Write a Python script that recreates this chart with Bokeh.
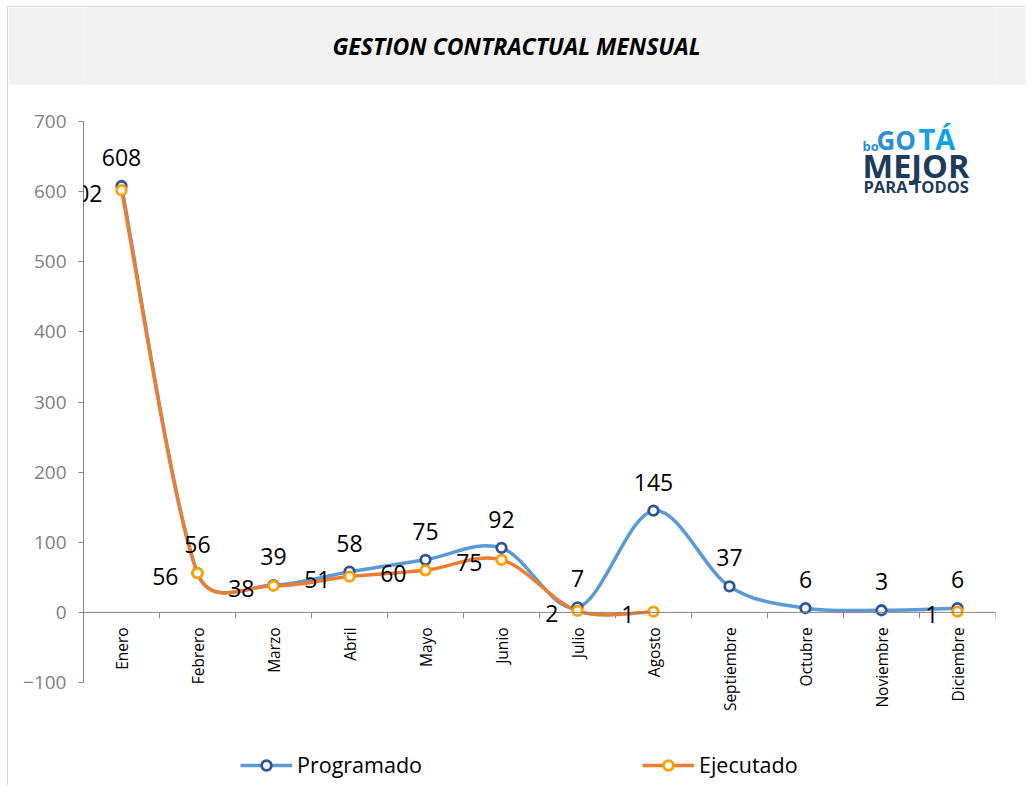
import math
from bokeh.plotting import figure
from bokeh.models import (ColumnDataSource, LabelSet, Label, Span, FixedTicker,
                          Legend, LegendItem, Range1d)
from bokeh.layouts import column
from bokeh.embed import file_html
from bokeh.resources import INLINE
from bokeh.core.properties import value

# ---------------- data ----------------
months = ["Enero", "Febrero", "Marzo", "Abril", "Mayo", "Junio", "Julio",
          "Agosto", "Septiembre", "Octubre", "Noviembre", "Diciembre"]
programado = [608, 56, 39, 58, 75, 92, 7, 145, 37, 6, 3, 6]
ejecutado = [602, 56, 38, 51, 60, 75, 2, 1, None, None, None, 1]
y_ticks = [-100, 0, 100, 200, 300, 400, 500, 600, 700]
series_names = ["Programado", "Ejecutado"]
title_text = "GESTION CONTRACTUAL MENSUAL"

# ---------------- styling / layout ----------------
FONT = "Open Sans"
W = 1018
TITLE_H = 78
MAIN_H = 700
TOP = 36
LEFT = 75
PX_PER_CAT = 76
Y_MAX = 700
PX_PER_UNIT = 0.70125
frame_w = PX_PER_CAT * len(months)
frame_h = MAIN_H - TOP
y_min = Y_MAX - frame_h / PX_PER_UNIT
RIGHT = W - LEFT - frame_w

BLUE_LINE = "#5b9bd5"
BLUE_MARK = "#2f5597"
ORANGE_LINE = "#ed7d31"
ORANGE_MARK = "#ffa000"
AXIS_GREY = "#868686"

PAGE_X0 = 8
PAGE_Y0 = 8
MARGIN_LEFT = 7
MARGIN_TOP = 6
FRAME_LEFT_PAGE = PAGE_X0 + LEFT
FRAME_TOP_PAGE = PAGE_Y0 + TITLE_H + TOP


def px2x(px):
    return (px - FRAME_LEFT_PAGE) / PX_PER_CAT - 0.5


def py2y(py):
    return Y_MAX - (py - FRAME_TOP_PAGE) / PX_PER_UNIT


def smooth_segments(vals):
    """Excel-like smoothed line as cubic bezier segments (control points
    computed from the data points, capped in screen space)."""
    segs = dict(x0=[], y0=[], x1=[], y1=[], cx0=[], cy0=[], cx1=[], cy1=[])
    runs, cur = [], []
    for i, v in enumerate(vals):
        if v is None:
            if cur:
                runs.append(cur)
            cur = []
        else:
            cur.append((float(i), float(v)))
    if cur:
        runs.append(cur)

    def dist(a, b):
        return math.hypot((a[0] - b[0]) * PX_PER_CAT, (a[1] - b[1]) * PX_PER_UNIT)

    for pts in runs:
        n = len(pts)
        for i in range(n - 1):
            p1, p2 = pts[i], pts[i + 1]
            p0 = pts[i - 1] if i > 0 else p1
            p3 = pts[i + 2] if i + 2 < n else p2
            d12 = dist(p1, p2)
            d02 = dist(p0, p2)
            d13 = dist(p1, p3)
            f1 = 1 / 6
            f2 = 1 / 6
            if d02 > 0 and d02 * f1 > d12 / 2:
                f1 = d12 / (2 * d02)
            if d13 > 0 and d13 * f2 > d12 / 2:
                f2 = d12 / (2 * d13)
            c1 = (p1[0] + f1 * (p2[0] - p0[0]), p1[1] + f1 * (p2[1] - p0[1]))
            c2 = (p2[0] - f2 * (p3[0] - p1[0]), p2[1] - f2 * (p3[1] - p1[1]))
            segs["x0"].append(p1[0]); segs["y0"].append(p1[1])
            segs["x1"].append(p2[0]); segs["y1"].append(p2[1])
            segs["cx0"].append(c1[0]); segs["cy0"].append(c1[1])
            segs["cx1"].append(c2[0]); segs["cy1"].append(c2[1])
    return segs


# ---------------- title band ----------------
# the column aligns this figure's frame with the main chart's frame,
# so the x range is expressed in figure pixels over that frame
t = figure(width=W, height=TITLE_H, title=None,
           x_range=Range1d(LEFT, LEFT + frame_w), y_range=Range1d(0, TITLE_H),
           toolbar_location=None, output_backend="svg",
           x_axis_location=None, y_axis_location=None,
           min_border=0, min_border_left=LEFT, min_border_right=RIGHT,
           min_border_top=0, min_border_bottom=0,
           background_fill_color="#f2f2f2", border_fill_color="#f2f2f2",
           outline_line_color=None)
t.grid.visible = False
t.add_layout(Label(x=332 - PAGE_X0, y=TITLE_H - (46 - PAGE_Y0), text=title_text,
                   text_align="left", text_baseline="middle", text_font=FONT,
                   text_font_style="bold italic", text_font_size="23px",
                   text_color="#000000"))

# ---------------- main chart ----------------
p = figure(width=W, height=MAIN_H, title=None,
           x_range=Range1d(-0.5, len(months) - 0.5),
           y_range=Range1d(y_min, Y_MAX),
           toolbar_location=None, output_backend="svg",
           x_axis_location=None, y_axis_location="left",
           min_border_top=TOP, min_border_left=LEFT, min_border_right=RIGHT,
           min_border_bottom=0, outline_line_color=None,
           background_fill_color="white", border_fill_color="white")
p.grid.visible = False

ax = p.yaxis[0]
ax.ticker = FixedTicker(ticks=y_ticks)
ax.bounds = (y_ticks[0], y_ticks[-1])
ax.axis_line_color = AXIS_GREY
ax.major_tick_line_color = AXIS_GREY
ax.major_tick_out = 5
ax.major_tick_in = 0
ax.minor_tick_line_color = None
ax.major_label_text_color = "#7f7f7f"
ax.major_label_text_font = FONT
ax.major_label_text_font_size = "19px"
ax.major_label_standoff = 12

# horizontal category axis at y = 0
p.add_layout(Span(location=0, dimension="width", line_color=AXIS_GREY, line_width=1))
bounds = [k - 0.5 for k in range(len(months) + 1)]
p.segment(x0=bounds, y0=[0] * len(bounds), x1=bounds,
          y1=[-6 / PX_PER_UNIT] * len(bounds), line_color=AXIS_GREY, line_width=1)

cat_src = ColumnDataSource(dict(x=list(range(len(months))), y=[0] * len(months), t=months))
p.add_layout(LabelSet(x="x", y="y", text="t", source=cat_src, angle=math.pi / 2,
                      text_align="right", text_baseline="middle", y_offset=-15,
                      text_font=value(FONT), text_font_size=value("15.5px"),
                      text_color="#000000"))

# smoothed lines
prog_seg = ColumnDataSource(smooth_segments(programado))
ejec_seg = ColumnDataSource(smooth_segments(ejecutado))
p.bezier(x0="x0", y0="y0", x1="x1", y1="y1", cx0="cx0", cy0="cy0", cx1="cx1", cy1="cy1",
         source=prog_seg, line_color=BLUE_LINE, line_width=3.5)
p.bezier(x0="x0", y0="y0", x1="x1", y1="y1", cx0="cx0", cy0="cy0", cx1="cx1", cy1="cy1",
         source=ejec_seg, line_color=ORANGE_LINE, line_width=3.5)

# markers
prog_src = ColumnDataSource(dict(x=list(range(len(months))), y=programado,
                                 lab=[str(v) for v in programado]))
ej_idx = [i for i, v in enumerate(ejecutado) if v is not None]
ejec_src = ColumnDataSource(dict(x=ej_idx, y=[ejecutado[i] for i in ej_idx],
                                 lab=[str(ejecutado[i]) for i in ej_idx]))
p.scatter(x="x", y="y", source=prog_src, marker="circle", size=9.5,
          line_color=BLUE_MARK, line_width=2.8, fill_color="white")
p.scatter(x="x", y="y", source=ejec_src, marker="circle", size=9.5,
          line_color=ORANGE_MARK, line_width=2.8, fill_color="white")

# data labels
p.add_layout(LabelSet(x="x", y="y", text="lab", source=prog_src, text_align="center",
                      text_baseline="alphabetic", y_offset=20,
                      text_font=value(FONT), text_font_size=value("23px"),
                      text_color="#000000"))
# Ejecutado labels sit left of their points (the first one overlaps the axis)
for i in ej_idx:
    p.add_layout(Label(x=i, y=ejecutado[i], text=str(ejecutado[i]), text_align="right",
                       text_baseline="middle", x_offset=-19, y_offset=-3,
                       text_font=FONT, text_font_size="23px", text_color="#000000"))

# logo text (y = vertical middle of each word)
logo = [
    ("bo", 862, 146, "13px", "#2b90d9"),
    ("GO", 876, 140, "26px", "#2b90d9"),
    ("TÁ", 918, 139, "29px", "#0fa3e6"),
    ("MEJOR", 862, 166, "32.5px", "#1f3b5c"),
    ("PARA TODOS", 863, 187, "16.5px", "#1f3b5c"),
]
for txt, lx, ly, fs, col in logo:
    p.add_layout(Label(x=px2x(lx), y=py2y(ly), text=txt, text_align="left",
                       text_baseline="middle", text_font=FONT,
                       text_font_style="bold", text_font_size=fs, text_color=col))

# legend (proxy renderers carry only the styles; their single point is NaN)
nan = [float("nan")]
lp1 = p.line(x=nan, y=nan, line_color=BLUE_LINE, line_width=3.5)
sp1 = p.scatter(x=nan, y=nan, marker="circle", size=9.5, line_color=BLUE_MARK,
                line_width=2.8, fill_color="white")
lp2 = p.line(x=nan, y=nan, line_color=ORANGE_LINE, line_width=3.5)
sp2 = p.scatter(x=nan, y=nan, marker="circle", size=9.5, line_color=ORANGE_MARK,
                line_width=2.8, fill_color="white")
legend = Legend(items=[LegendItem(label=series_names[0], renderers=[lp1, sp1]),
                       LegendItem(label=series_names[1], renderers=[lp2, sp2])],
                orientation="horizontal", location=(240 - FRAME_LEFT_PAGE, 6),
                glyph_width=52, glyph_height=24, label_height=24, label_width=345,
                label_standoff=5, spacing=0, padding=0, margin=0,
                border_line_color=None, background_fill_alpha=0,
                label_text_font=FONT, label_text_font_size="21.5px",
                label_text_color="#000000")
p.add_layout(legend)

layout = column(t, p, styles={"margin-left": "%dpx" % MARGIN_LEFT,
                              "margin-top": "%dpx" % MARGIN_TOP,
                              "border-left": "1px solid #d9d9d9",
                              "border-top": "1px solid #d9d9d9"})

open("out.html", "w").write(file_html(layout, INLINE))
